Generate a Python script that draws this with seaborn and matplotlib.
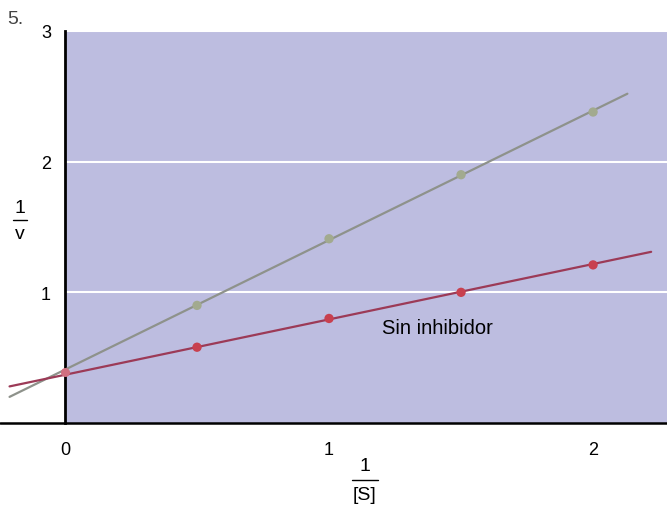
import numpy as np
import pandas as pd
import matplotlib.pyplot as plt
import seaborn as sns
from matplotlib.lines import Line2D

# dati (Lineweaver-Burk)
inv_s = [0.5, 1.0, 1.5, 2.0]
inv_v_inibitore = [0.90, 1.41, 1.90, 2.38]
inv_v_senza = [0.58, 0.80, 1.00, 1.21]
# estremi delle rette
retta_x_inib = [-0.21, 2.13]
retta_y_inib = [0.20, 2.52]
retta_x_senza = [-0.21, 2.22]
retta_y_senza = [0.28, 1.31]
intercetta = 0.39

x_ticks = [0, 1, 2]
y_ticks = [1, 2, 3]

punti = pd.DataFrame({
    "x": inv_s * 2,
    "y": inv_v_inibitore + inv_v_senza,
    "serie": ["inib"] * 4 + ["senza"] * 4,
})
rette = pd.DataFrame({
    "x": retta_x_inib + retta_x_senza,
    "y": retta_y_inib + retta_y_senza,
    "serie": ["inib"] * 2 + ["senza"] * 2,
})

sns.set_style("white")
plt.rcParams["font.family"] = ["Liberation Sans", "DejaVu Sans"]
plt.rcParams["text.color"] = "black"
plt.rcParams["xtick.color"] = "black"
plt.rcParams["ytick.color"] = "black"

fig = plt.figure(figsize=(6.67, 5.10), dpi=100)
ax = fig.add_axes([65 / 667, 1 - 424 / 510, 1 - 65 / 667, (424 - 32) / 510])
ax.set_facecolor("#bdbde0")

colori_linee = {"inib": "#8e928b", "senza": "#9c3a57"}
colori_punti = {"inib": "#a2aa8f", "senza": "#c8404f"}

sns.lineplot(data=rette, x="x", y="y", hue="serie", palette=colori_linee,
             linewidth=1.6, legend=False, ax=ax, clip_on=False, zorder=3)
sns.scatterplot(data=punti, x="x", y="y", hue="serie", palette=colori_punti,
                s=45, edgecolor="none", legend=False, ax=ax, zorder=4)
ax.scatter([0], [intercetta], s=30, color="#d07080", zorder=4, clip_on=False)

ax.set_xlim(0, 2.28)
ax.set_ylim(0, 3)
ax.set_xticks(x_ticks)
ax.set_yticks(y_ticks)
ax.tick_params(length=0, labelsize=13, pad=13, labelcolor="black")
ax.tick_params(axis="y", pad=10)
ax.grid(axis="y", color="white", linewidth=1.5)
ax.grid(axis="x", visible=False)
ax.set_xlabel("")
ax.set_ylabel("")

for lato in ["top", "right"]:
    ax.spines[lato].set_visible(False)
ax.spines["left"].set_color("black")
ax.spines["left"].set_linewidth(2)
ax.spines["bottom"].set_visible(False)
# asse orizzontale che prosegue a sinistra
ax.plot([-0.246, 2.28], [0, 0], color="black", linewidth=1.8, clip_on=False, zorder=5)

ax.text(1.20, 0.73, "Sin inhibidor", fontsize=14.5, va="center", ha="left", color="black")

# etichette a frazione
fig.text(20 / 667, 1 - 209 / 510, "1", ha="center", va="center", fontsize=14)
fig.add_artist(Line2D([13 / 667, 27 / 667], [1 - 221 / 510] * 2, color="black", linewidth=1))
fig.text(20 / 667, 1 - 235 / 510, "v", ha="center", va="center", fontsize=14)

fig.text(365 / 667, 1 - 467 / 510, "1", ha="center", va="center", fontsize=14)
fig.add_artist(Line2D([352 / 667, 378 / 667], [1 - 481 / 510] * 2, color="black", linewidth=1))
fig.text(365 / 667, 1 - 496 / 510, "[S]", ha="center", va="center", fontsize=14)

fig.text(15 / 667, 1 - 19 / 510, "5.", ha="center", va="center", fontsize=14, color="#444444")

fig.savefig("out.png", dpi=100)
